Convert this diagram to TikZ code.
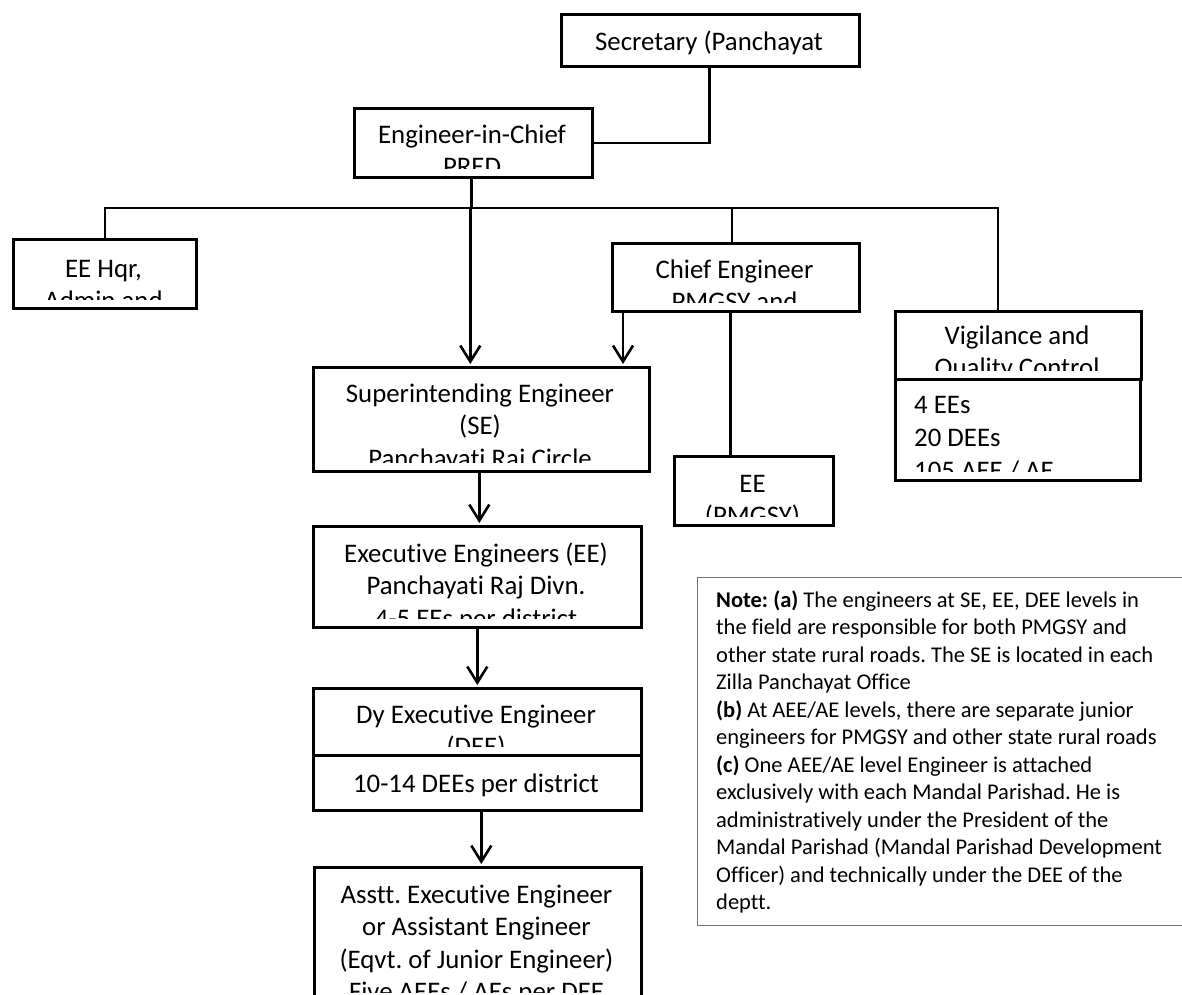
\documentclass[tikz,border=0pt]{standalone}
\usepackage{fontspec}
\setmainfont{Carlito}[Ligatures=CommonOff]
\usetikzlibrary{arrows.meta}
\frenchspacing
\tikzset{
  obox/.style={draw=black, line width=2.6pt, rectangle, inner sep=0pt, anchor=north west},
  nbox/.style={draw=black!55, line width=1.3pt, rectangle, inner sep=0pt, anchor=north west},
  ltxt/.style={inner sep=0pt, anchor=base, font=\fontsize{26.8}{32.5}\selectfont},
  ltxtw/.style={inner sep=0pt, anchor=base west, font=\fontsize{26.8}{32.5}\selectfont},
  ntxt/.style={inner sep=0pt, anchor=base west, font=\fontsize{22.5}{27.5}\selectfont},
  conn/.style={draw=black, line width=2.6pt},
  arr/.style={conn, -{Straight Barb[length=16pt,width=20pt]}, shorten >=2pt},
}
\begin{document}
\frenchspacing
\begin{tikzpicture}[x=1pt,y=-1pt]
\clip (0,0) rectangle (1182,994);
\fill[white] (0,0) rectangle (1182,994);

% ---------- boxes ----------
\node[obox, minimum width=298pt, minimum height=52pt]  (sec)  at (560,13)  {};
\node[obox, minimum width=238pt, minimum height=69pt]  (eic)  at (353,107) {};
\node[obox, minimum width=183pt, minimum height=69pt]  (hqr)  at (12,238)  {};
\node[obox, minimum width=247pt, minimum height=68pt]  (ce)   at (611,242) {};
\node[obox, minimum width=246pt, minimum height=68pt]  (vig)  at (894,310) {};
\node[obox, minimum width=245pt, minimum height=101pt] (vigl) at (894,378) {};
\node[obox, minimum width=336pt, minimum height=104pt] (se)   at (312,366) {};
\node[obox, minimum width=159pt, minimum height=69pt]  (pm)   at (673,455) {};
\node[obox, minimum width=328pt, minimum height=101pt] (ee)   at (312,525) {};
\node[obox, minimum width=328pt, minimum height=67pt]  (dee)  at (312,687) {};
\node[obox, minimum width=328pt, minimum height=55pt]  (deel) at (312,754) {};
\node[obox, minimum width=327pt, minimum height=134pt] (aee)  at (313,866) {};
\node[nbox, minimum width=500pt, minimum height=348pt] (note) at (697,577) {};

% ---------- box texts (clipped like the text boxes) ----------
\node[ltxt] (secA) at (709,50) {Secretary (Panchayat};

\begin{scope}
  \clip ([yshift=-2pt]eic.north west) rectangle ([yshift=10.5pt]eic.south east);
  \node[ltxt] (eicA) at (472,143)   {Engineer-in-Chief};
  \node[ltxt] (eicB) at (472,175.5) {PRED};
\end{scope}

\begin{scope}
  \clip ([yshift=-2pt]hqr.north west) rectangle ([yshift=10.5pt]hqr.south east);
  \node[ltxt] (hqrA) at (103.5,277)   {EE Hqr,};
  \node[ltxt] (hqrB) at (103.5,309.5) {Admin and};
\end{scope}

\begin{scope}
  \clip ([yshift=-2pt]ce.north west) rectangle ([yshift=10.5pt]ce.south east);
  \node[ltxt] (ceA) at (734.5,278)   {Chief Engineer};
  \node[ltxt] (ceB) at (734.5,310.5) {PMGSY and};
\end{scope}

\begin{scope}
  \clip ([yshift=-2pt]vig.north west) rectangle ([yshift=10.5pt]vig.south east);
  \node[ltxt] (vigA) at (1017,344)   {Vigilance and};
  \node[ltxt] (vigB) at (1017,376.5) {Quality Control};
\end{scope}

\begin{scope}
  \clip ([yshift=-2pt]vigl.north west) rectangle ([yshift=10.5pt]vigl.south east);
  \node[ltxtw] (viglA) at (914,413)   {4 EEs};
  \node[ltxtw] (viglB) at (914,446)   {20 DEEs};
  \node[ltxtw] (viglC) at (914,479)   {105 AEE / AE};
\end{scope}

\begin{scope}
  \clip ([yshift=-2pt]se.north west) rectangle ([yshift=10.5pt]se.south east);
  \node[ltxt] (seA) at (480,402)   {Superintending Engineer};
  \node[ltxt] (seB) at (480,434.5) {(SE)};
  \node[ltxt] (seC) at (480,467)   {Panchayati Raj Circle};
\end{scope}

\begin{scope}
  \clip ([yshift=-2pt]pm.north west) rectangle ([yshift=10.5pt]pm.south east);
  \node[ltxt] (pmA) at (752.5,492)   {EE};
  \node[ltxt] (pmB) at (752.5,524.5) {(PMGSY)};
\end{scope}

\begin{scope}
  \clip ([yshift=-2pt]ee.north west) rectangle ([yshift=10.5pt]ee.south east);
  \node[ltxt] (eeA) at (476,562)   {Executive Engineers (EE)};
  \node[ltxt] (eeB) at (476,594.5) {Panchayati Raj Divn.};
  \node[ltxt] (eeC) at (476,627)   {4-5 EEs per district};
\end{scope}

\begin{scope}
  \clip ([yshift=-2pt]dee.north west) rectangle ([yshift=10.5pt]dee.south east);
  \node[ltxt] (deeA) at (476,723)   {Dy Executive Engineer};
  \node[ltxt] (deeB) at (476,755.5) {(DEE)};
\end{scope}

\node[ltxt] (deelA) at (476,792) {10-14 DEEs per district};

\begin{scope}
  \clip ([yshift=-2pt]aee.north west) rectangle ([yshift=10.5pt]aee.south east);
  \node[ltxt] (aeeA) at (476.5,903)    {Asstt. Executive Engineer};
  \node[ltxt] (aeeB) at (476.5,935.5)  {or Assistant Engineer};
  \node[ltxt] (aeeC) at (476.5,968)    {(Eqvt. of Junior Engineer)};
  \node[ltxt] (aeeD) at (476.5,1000.5) {Five AEEs / AEs per DEE};
\end{scope}

% ---------- note ----------
\node[ntxt] (n1)  at (716,607)   {\textbf{Note: (a)} The engineers at SE, EE, DEE levels in};
\node[ntxt] (n2)  at (716,634.5) {the field are responsible for both PMGSY and};
\node[ntxt] (n3)  at (716,662)   {other state rural roads. The SE is located in each};
\node[ntxt] (n4)  at (716,689.5) {Zilla Panchayat Office};
\node[ntxt] (n5)  at (716,717)   {\textbf{(b)} At AEE/AE levels, there are separate junior};
\node[ntxt] (n6)  at (716,744.5) {engineers for PMGSY and other state rural roads};
\node[ntxt] (n7)  at (716,772)   {\textbf{(c)} One AEE/AE level Engineer is attached};
\node[ntxt] (n8)  at (716,799.5) {exclusively with each Mandal Parishad. He is};
\node[ntxt] (n9)  at (716,827)   {administratively under the President of the};
\node[ntxt] (n10) at (716,854.5) {Mandal Parishad (Mandal Parishad Development};
\node[ntxt] (n11) at (716,882)   {Officer) and technically under the DEE of the};
\node[ntxt] (n12) at (716,909.5) {deptt.};

% ---------- connectors ----------
\coordinate (barL) at (103.5,208);
\coordinate (barR) at (998,208);
\coordinate (ceTop) at (732,208);

\draw[conn] ([xshift=-1pt]sec.south) |- (eic.east);
\draw[conn] (hqr.north) |- (barR) -- (barR |- vig.north);
\draw[conn] (ceTop) -- (ceTop |- ce.north);
\draw[conn] ([xshift=-2pt]eic.south) -- ([xshift=-2pt]eic.south |- barL);
\draw[arr]  ([xshift=-3pt]eic.south |- barL) -- ([xshift=-3pt]eic.south |- se.north);
\draw[arr]  ([xshift=12pt]ce.south west) -- ([xshift=12pt]ce.south west |- se.north);
\draw[conn] ([xshift=-23.5pt]pm.north) -- ([xshift=-23.5pt]pm.north |- ce.south);
\draw[arr]  ([xshift=-2pt]se.south) -- ([xshift=-2pt]se.south |- ee.north);
\draw[arr]  (ee.south) -- (ee.south |- dee.north);
\draw[arr]  ([xshift=4pt]deel.south) -- ([xshift=4pt]deel.south |- aee.north);
\end{tikzpicture}
\end{document}
